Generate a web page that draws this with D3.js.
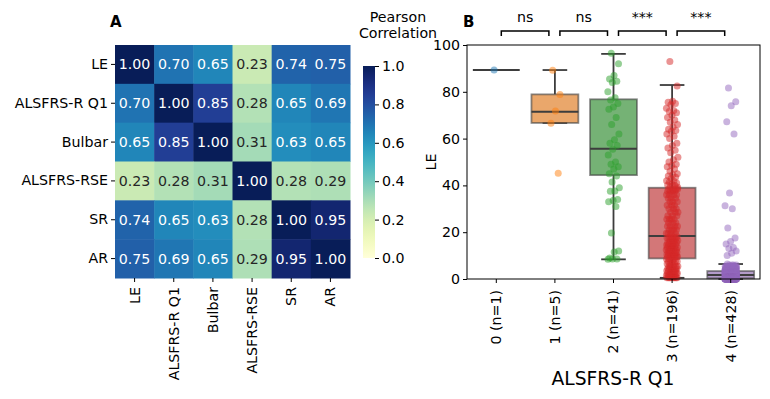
<!DOCTYPE html>
<html>
<head>
<meta charset="utf-8">
<script src="https://cdn.jsdelivr.net/npm/d3@7"></script>
<style>
  body { margin: 0; background: #fff; }
  svg { font-family: "DejaVu Sans", sans-serif; }
</style>
</head>
<body>
<div id="chart"></div>
<script>
// ---- panel A data ----
const hmLabels = ["LE", "ALSFRS-R Q1", "Bulbar", "ALSFRS-RSE", "SR", "AR"];
const corr = [
  [1.00, 0.70, 0.65, 0.23, 0.74, 0.75],
  [0.70, 1.00, 0.85, 0.28, 0.65, 0.69],
  [0.65, 0.85, 1.00, 0.31, 0.63, 0.65],
  [0.23, 0.28, 0.31, 1.00, 0.28, 0.29],
  [0.74, 0.65, 0.63, 0.28, 1.00, 0.95],
  [0.75, 0.69, 0.65, 0.29, 0.95, 1.00]
];
const cbTicks = [0, 0.2, 0.4, 0.6, 0.8, 1.0];

// ---- panel B data ----
const groups = ["0 (n=1)", "1 (n=5)", "2 (n=41)", "3 (n=196)", "4 (n=428)"];
const yTicksB = [0, 20, 40, 60, 80, 100];
const boxQ1 = [89.3, 66.7, 44.4, 8.8, 0.3];
const boxMed = [89.3, 71.5, 55.7, 18.4, 1.7];
const boxQ3 = [89.3, 78.9, 76.8, 39.0, 3.4];
const whiskLo = [89.3, 66.7, 8.4, 0.5, 0.0];
const whiskHi = [89.3, 89.3, 96.2, 82.9, 6.4];

const le0 = [89.3];
const le1 = [89.2, 78.8, 71.8, 66.6, 45.2];
const le2 = [96.5, 92, 87, 85.5, 84.5, 84, 80, 77.5, 76.5, 75, 73.5, 72.5, 69, 66, 62, 59.5,
  58, 57, 55.5, 53, 50, 49, 48, 47, 45, 44, 41.5, 39, 37.6, 37.5, 34, 33.5, 33, 31,
  19.7, 12, 11.5, 9, 8.6, 8.5, 8.4];
// group 3: sparse upper points, then [value, count] for the dense lower part
const le3Upper = [92.9, 82.5, 76, 75.5, 75, 74.5, 73, 72, 71.6, 71, 70, 69, 68, 67, 66, 65,
  64, 63.5, 63, 62, 61, 60, 58, 57, 56, 55, 54, 52, 51, 50, 49, 48.5, 48, 47, 46, 45,
  44.5, 44, 43.5, 43, 42, 41.8, 41.5, 41, 40.5, 40.2, 40, 39.5, 39.2];
const le3Bins = [[0.5, 8], [1.5, 7], [2.5, 6], [3.5, 6], [4.5, 5], [5.5, 5], [6.5, 4], [7.5, 4], [8.5, 4],
  [9.5, 6], [10.5, 6], [11.5, 5], [12.5, 5], [13.5, 5], [14.5, 5], [15.5, 5], [16.5, 4], [17.5, 4], [18.2, 4],
  [19.5, 4], [21, 4], [22.5, 4], [24, 3], [25.5, 4], [27, 3], [28.5, 3], [30, 3], [31.5, 3], [33, 3],
  [34.5, 3], [36, 4], [37.5, 4], [38.5, 4]];
const le4Upper = [81.6, 75.8, 74, 67.2, 62, 36.7, 31.3, 30, 21.8, 17.5, 16, 15, 13.5, 13, 12, 11, 10];
const le4Bins = [[0, 107], [0.5, 40], [1, 35], [1.5, 32], [2, 38], [2.5, 35], [3, 34], [3.5, 25],
  [4, 22], [4.5, 18], [5, 12], [5.5, 8], [6, 4], [6.4, 1]];
const sigPairs = [[0, 1, "ns"], [1, 2, "ns"], [2, 3, "***"], [3, 4, "***"]];

const pointColors = ["#1f77b4", "#ff7f0e", "#2ca02c", "#d62728", "#9467bd"];
const boxColors = ["#3274a1", "#e1812c", "#3a923a", "#c03d3e", "#9372b2"];

const FS = "14.2px";

function expand(bins) {
  var out = [];
  bins.forEach(function (b) { for (var k = 0; k < b[1]; k++) out.push(b[0]); });
  return out;
}
const groupValues = [le0, le1, le2, le3Upper.concat(expand(le3Bins)), le4Upper.concat(expand(le4Bins))];

const svg = d3.select("#chart").append("svg")
  .attr("width", 770)
  .attr("height", 399);

// ================= Panel A: heatmap =================
var hx = d3.scaleBand().domain(hmLabels).range([115, 350]);
var hy = d3.scaleBand().domain(hmLabels).range([45, 278]);
var color = d3.scaleSequential(d3.interpolateYlGnBu).domain([0, 1]);

function lum(c) {
  var rgb = d3.rgb(c);
  var f = function (v) { v = v / 255; return v <= 0.03928 ? v / 12.92 : Math.pow((v + 0.055) / 1.055, 2.4); };
  return 0.2126 * f(rgb.r) + 0.7152 * f(rgb.g) + 0.0722 * f(rgb.b);
}

var cells = [];
corr.forEach(function (row, i) {
  row.forEach(function (v, j) { cells.push({ r: hmLabels[i], c: hmLabels[j], v: v }); });
});

var cell = svg.append("g").selectAll("g")
  .data(cells)
  .enter().append("g");

cell.append("rect")
  .attr("x", d => hx(d.c))
  .attr("y", d => hy(d.r))
  .attr("width", hx.bandwidth() + 0.5)
  .attr("height", hy.bandwidth() + 0.5)
  .attr("fill", d => color(d.v));

cell.append("text")
  .attr("x", d => hx(d.c) + hx.bandwidth() / 2)
  .attr("y", d => hy(d.r) + hy.bandwidth() / 2)
  .attr("dy", "0.35em")
  .attr("text-anchor", "middle")
  .attr("font-size", FS)
  .attr("fill", d => lum(color(d.v)) > 0.408 ? "#262626" : "#fff")
  .text(d => d.v.toFixed(2));

var hyAxis = svg.append("g")
  .attr("transform", "translate(115,0)")
  .call(d3.axisLeft(hy).tickSize(4).tickPadding(3));
hyAxis.select(".domain").remove();
hyAxis.selectAll("text").attr("font-size", FS).attr("font-family", "DejaVu Sans").attr("fill", "#000");

var hxAxis = svg.append("g")
  .attr("transform", "translate(0,278)")
  .call(d3.axisBottom(hx).tickSize(4).tickPadding(3));
hxAxis.select(".domain").remove();
hxAxis.selectAll("text")
  .attr("font-size", FS).attr("font-family", "DejaVu Sans").attr("fill", "#000")
  .attr("transform", "rotate(-90)")
  .attr("text-anchor", "end")
  .attr("x", -9).attr("y", 0).attr("dy", "0.35em");

// colorbar
var cbX = 363, cbW = 12;
var cb = d3.scaleLinear().domain([0, 1]).range([258, 66]);
var grad = svg.append("defs").append("linearGradient")
  .attr("id", "cbgrad").attr("x1", 0).attr("y1", 1).attr("x2", 0).attr("y2", 0);
d3.range(0, 1.001, 0.05).forEach(function (t) {
  grad.append("stop").attr("offset", t).attr("stop-color", color(t));
});
svg.append("rect")
  .attr("x", cbX).attr("y", cb(1))
  .attr("width", cbW).attr("height", cb(0) - cb(1))
  .attr("fill", "url(#cbgrad)");
var cbAxis = svg.append("g")
  .attr("transform", "translate(" + (cbX + cbW) + ",0)")
  .call(d3.axisRight(cb).tickValues(cbTicks).tickFormat(d3.format(".1f")).tickSize(4).tickPadding(3));
cbAxis.select(".domain").remove();
cbAxis.selectAll("text").attr("font-size", FS).attr("font-family", "DejaVu Sans").attr("fill", "#000");

svg.append("text").attr("x", 398).attr("y", 22).attr("text-anchor", "middle")
  .attr("font-size", FS).attr("fill", "#000").text("Pearson");
svg.append("text").attr("x", 398).attr("y", 38).attr("text-anchor", "middle")
  .attr("font-size", FS).attr("fill", "#000").text("Correlation");

svg.append("text").attr("x", 110).attr("y", 27)
  .attr("font-size", "15px").attr("font-weight", "bold").text("A");

// ================= Panel B: box + strip =================
var bx = d3.scaleBand().domain(groups).range([467, 760]).padding(0);
var by = d3.scaleLinear().domain([0, 100]).range([279, 45]);
var bw = bx.bandwidth();

var gB = svg.append("g");

groups.forEach(function (g, i) {
  var cx = bx(g) + bw / 2;
  var boxW = bw * 0.8, capW = bw * 0.42;
  var lineCol = "#3d3d3d";
  // whiskers
  gB.append("line").attr("x1", cx).attr("x2", cx)
    .attr("y1", by(boxQ3[i])).attr("y2", by(whiskHi[i]))
    .attr("stroke", lineCol).attr("stroke-width", 1.8);
  gB.append("line").attr("x1", cx).attr("x2", cx)
    .attr("y1", by(boxQ1[i])).attr("y2", by(whiskLo[i]))
    .attr("stroke", lineCol).attr("stroke-width", 1.8);
  [whiskHi[i], whiskLo[i]].forEach(function (v) {
    gB.append("line").attr("x1", cx - capW / 2).attr("x2", cx + capW / 2)
      .attr("y1", by(v)).attr("y2", by(v))
      .attr("stroke", lineCol).attr("stroke-width", 1.8);
  });
  // box
  gB.append("rect")
    .attr("x", cx - boxW / 2).attr("width", boxW)
    .attr("y", by(boxQ3[i])).attr("height", by(boxQ1[i]) - by(boxQ3[i]))
    .attr("fill", boxColors[i]).attr("fill-opacity", 0.7)
    .attr("stroke", lineCol).attr("stroke-opacity", 0.6).attr("stroke-width", 1.8);
  // median
  gB.append("line").attr("x1", cx - boxW / 2).attr("x2", cx + boxW / 2)
    .attr("y1", by(boxMed[i])).attr("y2", by(boxMed[i]))
    .attr("stroke", lineCol).attr("stroke-width", 2);
});

// strip points (deterministic jitter)
groups.forEach(function (g, i) {
  var cx = bx(g) + bw / 2;
  var jit = bw * 0.1;
  gB.append("g").selectAll("circle")
    .data(groupValues[i])
    .enter().append("circle")
    .attr("cx", function (d, k) { return cx + (((k * 0.6180339887 + 0.31) % 1) - 0.5) * 2 * jit; })
    .attr("cy", d => by(d))
    .attr("r", 3.5)
    .attr("fill", pointColors[i])
    .attr("fill-opacity", 0.5);
});

// frame
svg.append("rect")
  .attr("x", 467).attr("y", 45).attr("width", 293).attr("height", 234)
  .attr("fill", "none").attr("stroke", "#000").attr("stroke-width", 1);

var byAxis = svg.append("g")
  .attr("transform", "translate(467,0)")
  .call(d3.axisLeft(by).tickValues(yTicksB).tickSize(4).tickPadding(3));
byAxis.select(".domain").remove();
byAxis.selectAll("text").attr("font-size", FS).attr("font-family", "DejaVu Sans").attr("fill", "#000");

var bxAxis = svg.append("g")
  .attr("transform", "translate(0,279)")
  .call(d3.axisBottom(bx).tickSize(4).tickPadding(3));
bxAxis.select(".domain").remove();
bxAxis.selectAll("text")
  .attr("font-size", FS).attr("font-family", "DejaVu Sans").attr("fill", "#000")
  .attr("transform", "rotate(-90)")
  .attr("text-anchor", "end")
  .attr("x", -11).attr("y", 0).attr("dy", "0.35em");

svg.append("text")
  .attr("transform", "translate(436,162) rotate(-90)")
  .attr("text-anchor", "middle").attr("font-size", FS).attr("fill", "#000").text("LE");
svg.append("text")
  .attr("x", 613).attr("y", 385).attr("text-anchor", "middle")
  .attr("font-size", "18.7px").attr("fill", "#000").text("ALSFRS-R Q1");

svg.append("text").attr("x", 463).attr("y", 27)
  .attr("font-size", "15px").attr("font-weight", "bold").text("B");

// significance brackets
var brTop = by(100) - 14, brLeg = 5;
sigPairs.forEach(function (p) {
  var x1 = bx(groups[p[0]]) + bw / 2 + 5;
  var x2 = bx(groups[p[1]]) + bw / 2 - 6;
  svg.append("path")
    .attr("d", "M" + x1 + "," + (brTop + brLeg) + "V" + brTop + "H" + x2 + "V" + (brTop + brLeg))
    .attr("fill", "none").attr("stroke", "#000").attr("stroke-width", 1.5);
  svg.append("text")
    .attr("x", (x1 + x2) / 2).attr("y", brTop - 9)
    .attr("text-anchor", "middle").attr("font-size", FS)
    .attr("font-family", "DejaVu Sans").attr("fill", "#000").text(p[2]);
});
</script>
</body>
</html>
